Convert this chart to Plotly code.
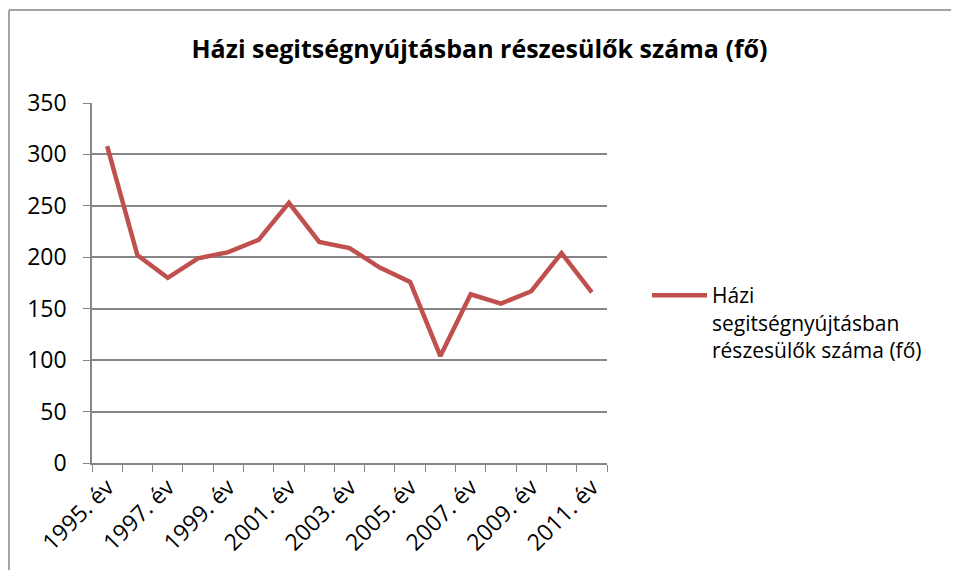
import plotly.graph_objects as go

years = ["1995. év", "1996. év", "1997. év", "1998. év", "1999. év", "2000. év",
         "2001. év", "2002. év", "2003. év", "2004. év", "2005. év", "2006. év",
         "2007. év", "2008. év", "2009. év", "2010. év", "2011. év"]
values = [308, 202, 180, 199, 205, 217, 253, 215, 209, 190, 176, 104, 164, 155, 167, 204, 166]
series_name = "Házi<br>segitségnyújtásban<br>részesülők száma (fő)"
title_text = "Házi segitségnyújtásban részesülők száma (fő)"
tick_labels = [y if i % 2 == 0 else "" for i, y in enumerate(years)]
y_ticks = [0, 50, 100, 150, 200, 250, 300, 350]

FONT = "Open Sans"
OFF = 8  # page body margin
W, H = 959 - 2 * OFF, 578 - 2 * OFF
L, R, T, B = 92 - OFF, 607 - OFF, 103 - OFF, 463 - OFF
PW, PH = R - L, B - T


def px(x):
    return (x - OFF - L) / PW


def py(y):
    return (B - (y - OFF)) / PH


border = dict(color="#868686", width=1.5)

fig = go.Figure()
fig.add_trace(go.Scatter(
    x=years, y=values, mode="lines", name=series_name,
    line=dict(color="#C0504D", width=4.5),
))

fig.update_layout(
    width=W, height=H,
    margin=dict(l=L, r=W - R, t=T, b=H - B, autoexpand=False),
    paper_bgcolor="white", plot_bgcolor="white",
    font=dict(family=FONT, size=22, color="black"),
    title=dict(text="<b>" + title_text + "</b>", x=0.5, xanchor="center",
               y=1 - (49 - OFF) / H, yanchor="middle",
               font=dict(family=FONT, size=25, color="black")),
    showlegend=True,
    legend=dict(x=px(647), xanchor="left",
                y=py(275), yanchor="top", valign="top",
                font=dict(family=FONT, size=21, color="black"),
                bgcolor="rgba(0,0,0,0)", tracegroupgap=0, itemwidth=55),
    shapes=[
        dict(type="line", xref="paper", yref="paper",
             x0=px(9), x1=px(958), y0=py(10), y1=py(10), line=border, layer="below"),
        dict(type="line", xref="paper", yref="paper",
             x0=px(9), x1=px(9), y0=py(10), y1=py(640), line=border, layer="below"),
    ],
)

fig.update_xaxes(
    type="category", categoryorder="array", categoryarray=years,
    tickmode="array", tickvals=years, ticktext=tick_labels,
    tickson="boundaries", ticks="outside", ticklen=7, tickcolor="#868686",
    tickangle=-45, showgrid=False, showline=True, linecolor="#868686",
    linewidth=1.5, zeroline=False, tickfont=dict(family=FONT, size=23),
    range=[-0.5, len(years) - 0.5], fixedrange=True,
)
fig.update_yaxes(
    range=[0, 350], tickmode="array", tickvals=y_ticks,
    ticks="outside", ticklen=7, tickcolor="#868686",
    showgrid=True, gridcolor="#868686", gridwidth=1.5,
    showline=True, linecolor="#868686", linewidth=1.5, zeroline=False,
    tickfont=dict(family=FONT, size=23), ticklabelstandoff=12,
)

fig.write_html("out.html", config={"displayModeBar": False})
